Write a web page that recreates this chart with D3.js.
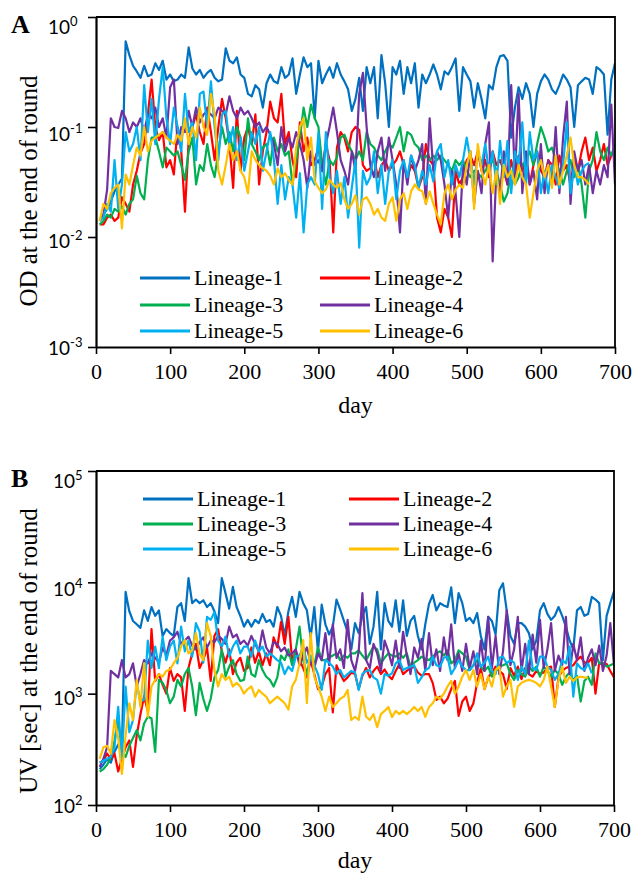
<!DOCTYPE html>
<html>
<head>
<meta charset="utf-8">
<script src="https://cdn.jsdelivr.net/npm/d3@7/dist/d3.min.js"></script>
<style>
  body { margin: 0; background: #fff; }
</style>
</head>
<body>
<div id="chart"></div>
<script>
// lineage names and Excel-style colours
const names = ["Lineage-1", "Lineage-2", "Lineage-3", "Lineage-4", "Lineage-5", "Lineage-6"];
const colors = ["#0070C0", "#FF0000", "#00B050", "#7030A0", "#00B0F0", "#FFC000"];

// day of each round (one value per point, shared by all series)
const days = [
  5, 10, 15, 20, 25, 30, 35, 40, 45, 50,
  55, 60, 65, 70, 75, 80, 85, 90, 95, 100,
  105, 110, 115, 120, 125, 130, 135, 140, 145, 150,
  155, 160, 165, 170, 175, 180, 185, 190, 195, 200,
  205, 210, 215, 220, 225, 230, 235, 240, 245, 250,
  255, 260, 265, 270, 275, 280, 285, 290, 295, 300,
  305, 310, 315, 320, 325, 330, 335, 340, 345, 350,
  355, 360, 365, 370, 375, 380, 385, 390, 395, 400,
  405, 410, 415, 420, 425, 430, 435, 440, 445, 450,
  455, 460, 465, 470, 475, 480, 485, 490, 495, 500,
  505, 510, 515, 520, 525, 530, 535, 540, 545, 550,
  555, 560, 565, 570, 575, 580, 585, 590, 595, 600,
  605, 610, 615, 620, 625, 630, 635, 640, 645, 650,
  655, 660, 665, 670, 675, 680, 685, 690, 695, 700
];

// ---- panel A: OD at the end of round ----
const odL1 = [
  0.014, 0.016, 0.018, 0.021, 0.026, 0.03, 0.034, 0.6, 0.45, 0.36,
  0.32, 0.28, 0.36, 0.29, 0.3, 0.38, 0.33, 0.4, 0.27, 0.3,
  0.26, 0.27, 0.3, 0.28, 0.53, 0.34, 0.3, 0.33, 0.28, 0.31,
  0.33, 0.28, 0.26, 0.27, 0.52, 0.4, 0.38, 0.43, 0.3, 0.28,
  0.2, 0.19, 0.24, 0.22, 0.15, 0.25, 0.3, 0.26, 0.25, 0.35,
  0.28, 0.3, 0.42, 0.2, 0.3, 0.43, 0.35, 0.38, 0.12, 0.4,
  0.25, 0.3, 0.35, 0.28, 0.38, 0.3, 0.26, 0.22, 0.14, 0.18,
  0.28, 0.14, 0.35, 0.25, 0.35, 0.12, 0.45, 0.25, 0.1, 0.35,
  0.3, 0.4, 0.2, 0.35, 0.25, 0.38, 0.15, 0.3, 0.25, 0.3,
  0.37, 0.3, 0.22, 0.32, 0.3, 0.35, 0.42, 0.14, 0.35, 0.3,
  0.26, 0.15, 0.25, 0.18, 0.12, 0.24, 0.22, 0.35, 0.44, 0.45,
  0.4, 0.08, 0.15, 0.23, 0.18, 0.25, 0.2, 0.1, 0.2, 0.26,
  0.3, 0.27, 0.22, 0.2, 0.24, 0.3, 0.27, 0.23, 0.1, 0.24,
  0.26, 0.28, 0.27, 0.2, 0.35, 0.33, 0.3, 0.085, 0.27, 0.38
];
const odL2 = [
  0.013, 0.013, 0.015, 0.016, 0.014, 0.015, 0.023, 0.02, 0.017, 0.03,
  0.04, 0.058, 0.07, 0.13, 0.27, 0.1, 0.076, 0.09, 0.043, 0.05,
  0.037, 0.1, 0.06, 0.017, 0.076, 0.1, 0.13, 0.09, 0.07, 0.15,
  0.09, 0.05, 0.1, 0.18, 0.12, 0.07, 0.028, 0.14, 0.04, 0.08,
  0.1, 0.07, 0.13, 0.03, 0.06, 0.09, 0.17, 0.12, 0.11, 0.2,
  0.07, 0.09, 0.05, 0.035, 0.11, 0.06, 0.08, 0.045, 0.05, 0.065,
  0.04, 0.07, 0.05, 0.011, 0.065, 0.09, 0.08, 0.06, 0.09, 0.1,
  0.094, 0.045, 0.04, 0.042, 0.053, 0.035, 0.045, 0.05, 0.04, 0.045,
  0.05, 0.06, 0.045, 0.035, 0.045, 0.04, 0.028, 0.035, 0.07, 0.05,
  0.045, 0.015, 0.011, 0.018, 0.015, 0.01, 0.04, 0.03, 0.035, 0.05,
  0.055, 0.045, 0.06, 0.04, 0.05, 0.035, 0.06, 0.045, 0.05, 0.04,
  0.03, 0.05, 0.035, 0.055, 0.04, 0.05, 0.03, 0.045, 0.06, 0.04,
  0.035, 0.05, 0.045, 0.03, 0.055, 0.04, 0.045, 0.03, 0.05, 0.04,
  0.06, 0.08, 0.05, 0.065, 0.04, 0.05, 0.07, 0.045, 0.055, 0.06
];
const odL3 = [
  0.013, 0.014, 0.016, 0.015, 0.018, 0.017, 0.019, 0.016, 0.02, 0.022,
  0.036, 0.025, 0.022, 0.05, 0.08, 0.08, 0.06, 0.043, 0.065, 0.06,
  0.055, 0.06, 0.045, 0.033, 0.06, 0.08, 0.03, 0.045, 0.04, 0.07,
  0.045, 0.035, 0.06, 0.1, 0.07, 0.09, 0.06, 0.1, 0.08, 0.05,
  0.12, 0.07, 0.06, 0.05, 0.065, 0.07, 0.045, 0.08, 0.06, 0.07,
  0.055, 0.06, 0.03, 0.05, 0.08, 0.15, 0.1, 0.16, 0.12, 0.1,
  0.046, 0.03, 0.05, 0.045, 0.053, 0.08, 0.085, 0.07, 0.06, 0.05,
  0.06, 0.05, 0.09, 0.07, 0.065, 0.055, 0.05, 0.06, 0.07, 0.065,
  0.08, 0.1, 0.06, 0.09, 0.085, 0.07, 0.065, 0.05, 0.055, 0.05,
  0.055, 0.05, 0.055, 0.05, 0.045, 0.04, 0.05, 0.045, 0.05, 0.04,
  0.035, 0.04, 0.038, 0.035, 0.04, 0.045, 0.05, 0.04, 0.03, 0.021,
  0.025, 0.04, 0.03, 0.035, 0.045, 0.05, 0.06, 0.045, 0.07, 0.1,
  0.08, 0.06, 0.065, 0.05, 0.04, 0.03, 0.04, 0.05, 0.035, 0.045,
  0.03, 0.015, 0.04, 0.05, 0.09, 0.06, 0.05, 0.065, 0.055, 0.07
];
const odL4 = [
  0.014, 0.016, 0.027, 0.12, 0.1, 0.098, 0.14, 0.12, 0.09, 0.11,
  0.1, 0.12, 0.09, 0.13, 0.12, 0.15, 0.1, 0.12, 0.08, 0.23,
  0.27, 0.07, 0.1, 0.09, 0.14, 0.1, 0.15, 0.11, 0.13, 0.14,
  0.13, 0.12, 0.15, 0.14, 0.13, 0.19, 0.14, 0.12, 0.15, 0.13,
  0.14, 0.12, 0.1, 0.11, 0.09, 0.1, 0.085, 0.07, 0.045, 0.1,
  0.06, 0.08, 0.065, 0.09, 0.07, 0.05, 0.028, 0.06, 0.045, 0.05,
  0.04, 0.07, 0.1, 0.15, 0.09, 0.05, 0.04, 0.03, 0.06, 0.04,
  0.2, 0.31, 0.1, 0.045, 0.035, 0.06, 0.08, 0.04, 0.08, 0.05,
  0.03, 0.011, 0.05, 0.03, 0.055, 0.04, 0.05, 0.07, 0.02, 0.12,
  0.04, 0.06, 0.05, 0.03, 0.015, 0.04, 0.025, 0.01, 0.045, 0.03,
  0.06, 0.02, 0.04, 0.025, 0.07, 0.11, 0.006, 0.04, 0.025, 0.06,
  0.03, 0.24, 0.035, 0.2, 0.025, 0.06, 0.03, 0.04, 0.022, 0.07,
  0.025, 0.05, 0.03, 0.1, 0.025, 0.08, 0.17, 0.02, 0.06, 0.04,
  0.05, 0.03, 0.045, 0.025, 0.04, 0.03, 0.045, 0.035, 0.16, 0.03
];
const odL5 = [
  0.014, 0.015, 0.02, 0.017, 0.05, 0.018, 0.03, 0.09, 0.06, 0.07,
  0.1, 0.05, 0.24, 0.09, 0.18, 0.07, 0.18, 0.35, 0.12, 0.07,
  0.15, 0.1, 0.06, 0.2, 0.09, 0.11, 0.05, 0.2, 0.21, 0.1,
  0.26, 0.1, 0.05, 0.13, 0.14, 0.07, 0.1, 0.05, 0.08, 0.04,
  0.06, 0.09, 0.07, 0.1, 0.04, 0.06, 0.09, 0.05, 0.02, 0.045,
  0.022, 0.035, 0.03, 0.015, 0.038, 0.011, 0.03, 0.035, 0.03, 0.09,
  0.018, 0.09, 0.035, 0.025, 0.04, 0.02, 0.035, 0.015, 0.028, 0.05,
  0.008, 0.04, 0.03, 0.035, 0.06, 0.025, 0.045, 0.02, 0.04, 0.05,
  0.022, 0.04, 0.05, 0.035, 0.055, 0.045, 0.028, 0.04, 0.03, 0.045,
  0.032, 0.06, 0.07, 0.035, 0.05, 0.03, 0.045, 0.035, 0.05, 0.08,
  0.05, 0.03, 0.06, 0.045, 0.07, 0.04, 0.06, 0.03, 0.075, 0.035,
  0.075, 0.025, 0.06, 0.045, 0.11, 0.03, 0.09, 0.05, 0.06, 0.025,
  0.04, 0.025, 0.045, 0.035, 0.028, 0.045, 0.11, 0.025, 0.045, 0.03,
  0.04, 0.045, 0.047
];
const odL6 = [
  0.014, 0.02, 0.018, 0.025, 0.028, 0.03, 0.012, 0.037, 0.03, 0.045,
  0.065, 0.055, 0.1, 0.06, 0.075, 0.08, 0.085, 0.09, 0.08, 0.075,
  0.07, 0.085, 0.075, 0.12, 0.07, 0.1, 0.08, 0.15, 0.1, 0.085,
  0.2, 0.13, 0.04, 0.03, 0.045, 0.07, 0.05, 0.06, 0.04, 0.035,
  0.025, 0.06, 0.05, 0.045, 0.042, 0.04, 0.036, 0.03, 0.042, 0.035,
  0.038, 0.033, 0.03, 0.065, 0.1, 0.12, 0.05, 0.08, 0.032, 0.028,
  0.025, 0.027, 0.033, 0.03, 0.028, 0.031, 0.022, 0.018, 0.02, 0.024,
  0.016, 0.022, 0.023, 0.02, 0.016, 0.018, 0.015, 0.014, 0.02, 0.023,
  0.014, 0.022, 0.025, 0.018, 0.026, 0.03, 0.027, 0.026, 0.02, 0.026,
  0.02, 0.016, 0.013, 0.025, 0.03, 0.022, 0.027, 0.03, 0.028, 0.045,
  0.06, 0.018, 0.07, 0.04, 0.03, 0.045, 0.025, 0.04, 0.02, 0.045,
  0.035, 0.04, 0.03, 0.045, 0.035, 0.03, 0.015, 0.025, 0.04, 0.05,
  0.035, 0.045, 0.028, 0.055, 0.03, 0.04, 0.055, 0.08, 0.045, 0.035,
  0.035, 0.033, 0.03
];

// ---- panel B: UV [sec] at the end of round ----
const uvL1 = [
  210, 230, 260, 240, 300, 350, 320, 8200, 5500, 4500,
  4200, 3900, 5600, 4500, 6000, 5000, 5600, 3300, 3800, 3500,
  3300, 6000, 6500, 4500, 10900, 6500, 7000, 6500, 6900, 6000,
  6500, 5500, 4300, 10900, 8000, 5800, 9100, 6000, 5000, 4000,
  4600, 4000, 4600, 4300, 5200, 4400, 4600, 4000, 6000, 5000,
  3300, 5500, 7400, 4900, 8200, 6500, 5600, 3200, 6000, 2400,
  6300, 4200, 3400, 4000, 7000, 5700, 4500, 3600, 2500, 4300,
  3500, 5000, 6000, 2800, 4000, 8200, 2500, 6500, 4500, 4000,
  6900, 3600, 6900, 3300, 4500, 5000, 3300, 2500, 4200, 6400,
  7700, 5600, 6500, 6200, 6000, 9000, 4300, 8000, 6500, 4500,
  4800, 4300, 5300, 3300, 2500, 4900, 4500, 3400, 8500, 9800,
  5600, 3300, 2800, 4300, 4300, 4000, 3500, 2500, 3000, 5600,
  6500, 5200, 4600, 5000, 6000, 5000, 4000, 3000, 2500, 5600,
  6000, 5000, 5200, 7400, 7000, 6500, 2000, 5000, 6500, 8300
];
const uvL2 = [
  240, 250, 290, 260, 290, 200, 260, 330, 380, 220,
  420, 650, 950, 700, 3800, 1300, 1500, 1200, 1000, 1700,
  1300, 1500, 1400, 700, 1700, 2300, 2800, 1700, 2000, 2600,
  1300, 3300, 3800, 2400, 1900, 2500, 1500, 1900, 2100, 1600,
  1700, 2600, 1900, 2400, 1800, 2300, 1800, 3200, 2600, 4400,
  2800, 4900, 2000, 2400, 2000, 1700, 1400, 2000, 1500, 1100,
  1160, 1500, 1700, 680, 1800, 1500, 1300, 1400, 1550, 1500,
  1100, 1450, 1700, 1400, 1600, 1750, 1500, 1650, 1450, 1350,
  1600, 1850, 1500, 1600, 1700, 1750, 1550, 1450, 1500, 1500,
  1250, 880, 940, 820, 900, 1100, 1300, 630, 850, 940,
  700, 820, 1250, 1700, 1100, 1400, 1550, 1750, 1600, 1500,
  1100, 1700, 1450, 1750, 1350, 1700, 1500, 1420, 1600, 1500,
  1550, 1700, 1750, 760, 1400, 1600, 1700, 1750, 1800, 2000,
  2150, 1900, 1900, 2100, 1000, 1900, 1800, 1850, 1600, 1400
];
const uvL3 = [
  200, 210, 230, 270, 380, 580, 300, 270, 340, 400,
  470, 380, 540, 620, 600, 300, 1330, 1250, 1080, 820,
  940, 1330, 1160, 1500, 1700, 1160, 640, 1250, 900, 700,
  900, 1400, 1630, 2500, 1420, 1750, 2000, 1500, 1300, 1330,
  2150, 1500, 1420, 2000, 1630, 1420, 1330, 1160, 1400, 2200,
  2000, 2500, 1800, 2500, 4000, 2000, 1500, 2200, 1800, 2600,
  2000, 2000, 2100, 2200, 2300, 2000, 2200, 2100, 2300, 2300,
  2450, 2200, 2000, 2300, 2650, 2500, 1870, 2100, 2300, 2200,
  2150, 2300, 2100, 2300, 1750, 1900, 2000, 2150, 2050, 2000,
  2150, 2300, 2400, 2200, 2450, 1870, 2000, 2450, 2300, 2150,
  1630, 1800, 2000, 1750, 1600, 1750, 1420, 1600, 1750, 1800,
  1870, 1500, 1330, 1630, 1500, 1420, 1750, 1600, 1750, 1420,
  1750, 1600, 1420, 1630, 1500, 1200, 1420, 1550, 1330, 1450,
  850, 1300, 1420, 1200, 2300, 1870, 1900, 1750, 1800, 1870
];
const uvL4 = [
  220, 260, 330, 1600, 1500, 1400, 2000, 1400, 1500, 1870,
  1160, 1500, 2000, 1870, 2300, 2100, 1900, 2600, 2200, 3000,
  3200, 3600, 2800, 3000, 3250, 2700, 2500, 2900, 3200, 2600,
  3000, 2900, 3300, 3100, 2800, 4000, 3200, 3400, 2800, 3000,
  2700, 3300, 2800, 2400, 3700, 2600, 2300, 2900, 2800, 2400,
  2600, 2200, 2300, 2500, 1800, 2200, 2600, 1900, 1700, 2300,
  2000, 3500, 1800, 4200, 2100, 2500, 1700, 4600, 2000, 1600,
  2400, 8000, 2000, 1700, 2800, 2300, 1600, 3000, 2400, 1800,
  3000, 1700, 3600, 2200, 1500, 2600, 2100, 3100, 1600, 3500,
  1800, 2500, 1600, 3200, 2000, 4200, 1700, 2300, 1600, 2800,
  1700, 2400, 1500, 3000, 1600, 4900, 1700, 3300, 1500, 2400,
  5600, 1800, 2500, 4900, 1600, 2800, 1500, 3400, 1900, 4600,
  1700, 2500, 4300, 1600, 2200, 1800, 4900, 1500, 2800, 2000,
  3200, 1600, 2100, 2500, 1800, 2700, 1600, 2200, 4300, 1800
];
const uvL5 = [
  240, 250, 260, 270, 330, 760, 260, 1160, 450, 580,
  1240, 850, 880, 3000, 1700, 2650, 1700, 3250, 2000, 2650,
  3000, 1870, 4000, 2400, 3000, 2150, 4300, 3600, 1900, 4900,
  4600, 5400, 3000, 2650, 3250, 2150, 2650, 3000, 2300, 2650,
  2650, 2150, 3000, 2400, 2650, 2150, 2300, 2150, 2000, 1900,
  1500, 1750, 1600, 2150, 2200, 2650, 1900, 2150, 1800, 1500,
  1080, 2000, 1900, 1750, 1500, 1630, 1400, 1500, 1600, 1550,
  1080, 1500, 1600, 1630, 1400, 1330, 1000, 1500, 1450, 1520,
  1870, 2000, 1630, 1700, 1750, 1800, 1250, 1400, 1630, 1700,
  2150, 1800, 1750, 2100, 2150, 1500, 1700, 2000, 1750, 1630,
  1630, 1800, 2300, 1750, 1900, 2150, 1600, 1500, 2100, 2150,
  1870, 2000, 1900, 1330, 1750, 1500, 3000, 1700, 1630, 2150,
  2150, 1750, 1630, 1330, 1500, 2000, 1870, 2650, 940, 1870,
  1700, 1630, 1870, 1520
];
const uvL6 = [
  260, 330, 340, 290, 580, 400, 190, 420, 820, 580,
  1330, 760, 1870, 620, 1160, 1330, 1500, 1420, 1600, 1650,
  1870, 2100, 2650, 3030, 2300, 2450, 3500, 2300, 2000, 4300,
  3300, 1630, 1160, 1500, 1330, 1420, 1160, 1250, 1160, 1000,
  1100, 1160, 940, 1080, 1000, 940, 820, 880, 940, 880,
  820, 720, 1160, 1330, 1870, 3030, 820, 3500, 1420, 1160,
  940, 700, 940, 760, 820, 900, 940, 1080, 580, 620,
  580, 940, 620, 580, 655, 500, 655, 700, 760, 615,
  700, 655, 700, 655, 700, 760, 700, 760, 620, 760,
  820, 940, 900, 1000, 1160, 1300, 1000, 1160, 1420, 1630,
  1330, 1630, 1160, 1500, 1100, 1420, 1160, 1630, 1750, 940,
  1160, 1330, 760, 1160, 1250, 1300, 1330, 1300, 1250, 1160,
  1330, 1750, 1160, 760, 1330, 1750, 1250, 1420, 1300, 1400,
  1420, 1400, 1390
];

// axis ticks
const dayTicks = [0, 100, 200, 300, 400, 500, 600, 700];
const odTicks = [1e-3, 1e-2, 1e-1, 1];
const odExps = ["-3", "-2", "-1", "0"];
const uvTicks = [1e2, 1e3, 1e4, 1e5];
const uvExps = ["2", "3", "4", "5"];

const W = 633, H = 879;
const serif = "'Liberation Serif', 'Times New Roman', Times, serif";
const sans = "Lato, 'Open Sans', sans-serif";

const svg = d3.select("#chart").append("svg")
    .attr("width", W)
    .attr("height", H)
    .style("background", "#fff");

function drawPanel(p) {
    const x = d3.scaleLinear().domain([0, 700]).range([p.left, p.right]);
    const y = d3.scaleLog().domain(p.domain).range([p.bottom, p.top]);

    const g = svg.append("g");

    // clip for the lines
    g.append("clipPath").attr("id", "clip" + p.letter)
        .append("rect")
        .attr("x", p.left).attr("y", p.top)
        .attr("width", p.right - p.left).attr("height", p.bottom - p.top);

    // series (drawn 1..6 so later lineages sit on top)
    const line = d3.line()
        .x((d, i) => x(days[i]))
        .y(d => y(d));
    const lines = g.append("g").attr("clip-path", `url(#clip${p.letter})`);
    p.series.forEach((s, k) => {
        lines.append("path")
            .datum(s)
            .attr("fill", "none")
            .attr("stroke", colors[k])
            .attr("stroke-width", 2.2)
            .attr("stroke-linejoin", "round")
            .attr("d", line);
    });

    // plot frame (top and right)
    g.append("path")
        .attr("d", `M${p.left},${p.top}H${p.right}V${p.bottom}`)
        .attr("fill", "none")
        .attr("stroke", "#000")
        .attr("stroke-width", 1.8);

    // x axis
    const xAxis = g.append("g")
        .attr("transform", `translate(0,${p.bottom})`)
        .call(d3.axisBottom(x).tickValues(dayTicks).tickSize(7).tickSizeOuter(0).tickPadding(9));
    xAxis.select(".domain").attr("stroke-width", 2);
    xAxis.selectAll(".tick line").attr("stroke-width", 1.6);
    xAxis.selectAll(".tick text")
        .attr("font-family", serif)
        .attr("font-size", 22)
        .attr("fill", "#000")
        .attr("dy", "0.71em");

    // y axis (log), labels as 10 with superscript exponent
    const yAxis = g.append("g")
        .attr("transform", `translate(${p.left},0)`)
        .call(d3.axisLeft(y).tickValues(p.ticks).tickSize(8).tickSizeOuter(0).tickFormat(""));
    yAxis.select(".domain").attr("stroke-width", 2.2);
    yAxis.selectAll(".tick line").attr("stroke-width", 1.6);
    yAxis.selectAll(".tick").each(function (d, i) {
        const off = 9 - 2.7 * (p.ticks.length - 1 - i);
        const t = d3.select(this).append("text")
            .attr("x", p.labelX - p.left)
            .attr("y", off + 7)
            .attr("text-anchor", "start")
            .attr("font-family", sans)
            .attr("font-size", 19)
            .attr("fill", "#000");
        t.append("tspan").text("10");
        t.append("tspan")
            .attr("dy", -8)
            .attr("font-size", 13)
            .text(p.exps[i]);
    });

    // axis titles
    g.append("text")
        .attr("x", (p.left + p.right) / 2)
        .attr("y", p.dayY)
        .attr("text-anchor", "middle")
        .attr("font-family", serif)
        .attr("font-size", 24)
        .text("day");

    g.append("text")
        .attr("transform", `translate(37,${p.titleY}) rotate(-90)`)
        .attr("text-anchor", "middle")
        .attr("font-family", serif)
        .attr("font-size", 25)
        .text(p.title);

    // panel letter
    g.append("text")
        .attr("x", 11)
        .attr("y", p.letterY)
        .attr("font-family", serif)
        .attr("font-weight", "bold")
        .attr("font-size", 26)
        .text(p.letter);

    // legend: two columns, three rows
    const leg = g.append("g");
    names.forEach((n, k) => {
        const col = k % 2, row = Math.floor(k / 2);
        const lx = p.legendX[col], ly = p.legendY[row];
        leg.append("line")
            .attr("x1", lx).attr("x2", lx + 50)
            .attr("y1", ly).attr("y2", ly)
            .attr("stroke", colors[k])
            .attr("stroke-width", 2.8);
        leg.append("text")
            .attr("x", lx + 54)
            .attr("y", ly + 7)
            .attr("font-family", serif)
            .attr("font-size", 22)
            .text(n);
    });
}

drawPanel({
    letter: "A", letterY: 33,
    left: 96, right: 615, top: 17, bottom: 347,
    domain: [1e-3, 1], ticks: odTicks, exps: odExps, labelX: 48,
    series: [odL1, odL2, odL3, odL4, odL5, odL6],
    title: "OD at the end of round", titleY: 191, dayY: 413,
    legendX: [140, 320], legendY: [278, 305, 331]
});

drawPanel({
    letter: "B", letterY: 487,
    left: 96, right: 614, top: 471, bottom: 805,
    domain: [1e2, 1e5], ticks: uvTicks, exps: uvExps, labelX: 53,
    series: [uvL1, uvL2, uvL3, uvL4, uvL5, uvL6],
    title: "UV [sec] at the end of round", titleY: 651, dayY: 868,
    legendX: [143, 349], legendY: [499, 524, 549]
});
</script>
</body>
</html>
